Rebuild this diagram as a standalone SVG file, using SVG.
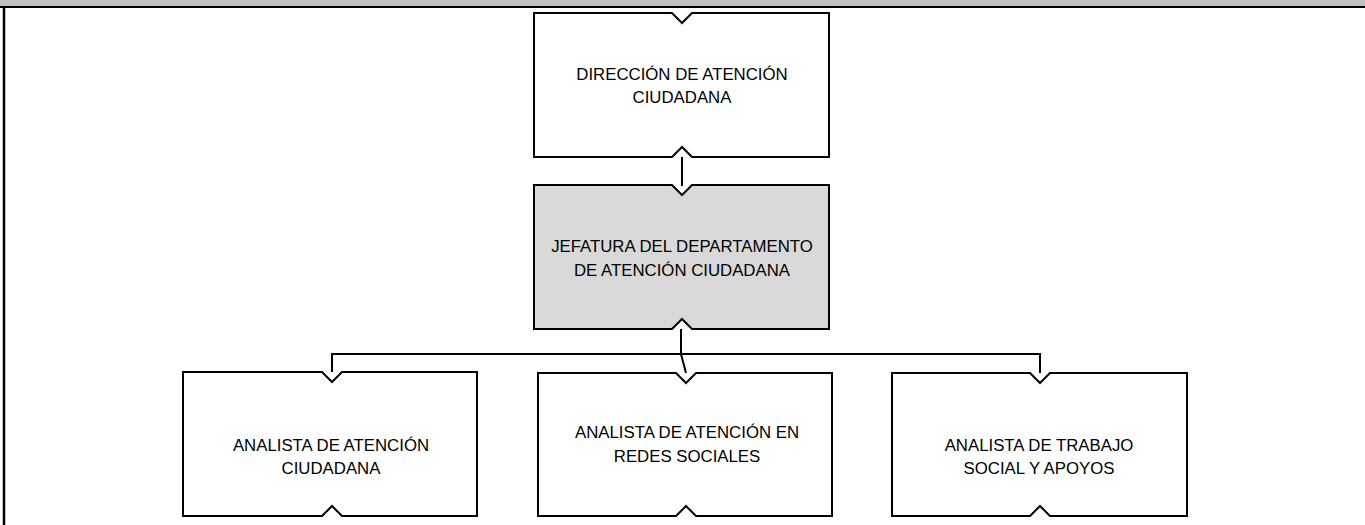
<svg xmlns="http://www.w3.org/2000/svg" width="1365" height="525" viewBox="0 0 1365 525">
<style>
.box{fill:#ffffff;stroke:#000000;stroke-width:2;stroke-linejoin:miter}
.grey{fill:#d9d9d9}
.lbl{font-family:"Liberation Sans",Arial,sans-serif;font-size:16.8px;fill:#000000;text-anchor:middle}
.conn{fill:none;stroke:#000000;stroke-width:2}
</style>
<rect x="0" y="0" width="1365" height="525" fill="#ffffff"/>
<g id="frame">
<rect x="0" y="0" width="1365" height="6" fill="#c0c0c0"/>
<line x1="0" y1="7" x2="1365" y2="7" stroke="#000" stroke-width="2"/>
<line x1="4" y1="6" x2="4" y2="525" stroke="#000" stroke-width="2.5"/>
</g>
<g id="connectors">
<line class="conn" x1="682" y1="157" x2="682" y2="186"/>
<polyline class="conn" points="681,329 681,354 686,373"/>
<line class="conn" x1="331" y1="354" x2="1041" y2="354"/>
<line class="conn" x1="332" y1="354" x2="332" y2="372"/>
<line class="conn" x1="1040" y1="354" x2="1040" y2="373"/>
</g>
<g id="direccion">
<path class="box" d="M534,13 H672 L682,23 L692,13 H829 V157 H692 L682,147 L672,157 H534 Z"/>
<text class="lbl" x="682" y="80">DIRECCIÓN DE ATENCIÓN</text>
<text class="lbl" x="682" y="103">CIUDADANA</text>
</g>
<g id="jefatura">
<path class="box grey" d="M534,185 H672 L682,195 L692,185 H829 V329 H692 L682,319 L672,329 H534 Z"/>
<text class="lbl" x="682" y="252">JEFATURA DEL DEPARTAMENTO</text>
<text class="lbl" x="682" y="276">DE ATENCIÓN CIUDADANA</text>
</g>
<g id="analista-atencion">
<path class="box" d="M183,372 H322 L332,382 L342,372 H477 V516 H342 L332,506 L322,516 H183 Z"/>
<text class="lbl" x="331" y="451">ANALISTA DE ATENCIÓN</text>
<text class="lbl" x="331" y="474">CIUDADANA</text>
</g>
<g id="analista-redes">
<path class="box" d="M538,373 H676 L686,383 L696,373 H832 V516 H696 L686,506 L676,516 H538 Z"/>
<text class="lbl" x="687" y="438">ANALISTA DE ATENCIÓN EN</text>
<text class="lbl" x="687" y="462">REDES SOCIALES</text>
</g>
<g id="analista-trabajo">
<path class="box" d="M892,373 H1030 L1040,383 L1050,373 H1187 V516 H1050 L1040,506 L1030,516 H892 Z"/>
<text class="lbl" x="1039" y="451">ANALISTA DE TRABAJO</text>
<text class="lbl" x="1039" y="474">SOCIAL Y APOYOS</text>
</g>
</svg>
